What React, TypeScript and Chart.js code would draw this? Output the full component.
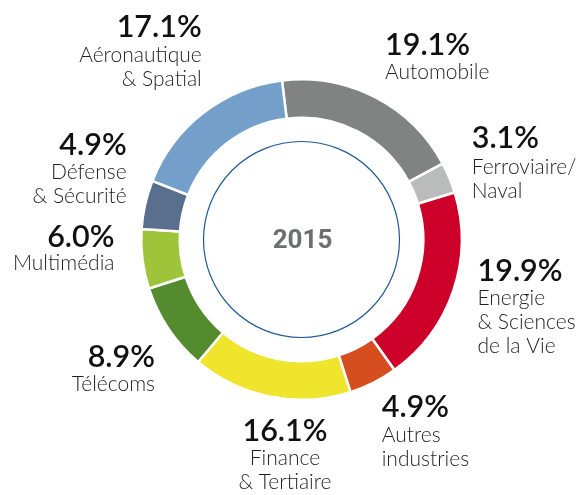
import React, { useEffect, useRef } from "react";
import { Chart, registerables } from "chart.js";

Chart.register(...registerables);

// ---- data ----
const categories = [
  "Automobile",
  "Ferroviaire/Naval",
  "Energie & Sciences de la Vie",
  "Autres industries",
  "Finance & Tertiaire",
  "Télécoms",
  "Multimédia",
  "Défense & Sécurité",
  "Aéronautique & Spatial",
];
const shares = [19.1, 3.1, 19.9, 4.9, 16.1, 8.9, 6.0, 4.9, 17.1];
const labelLines = [
  ["Automobile"],
  ["Ferroviaire/", "Naval"],
  ["Energie", "& Sciences", "de la Vie"],
  ["Autres", "industries"],
  ["Finance", "& Tertiaire"],
  ["Télécoms"],
  ["Multimédia"],
  ["Défense", "& Sécurité"],
  ["Aéronautique", "& Spatial"],
];
const centerLabel = "2015";

// ---- styles / layout ----
const colors = [
  "#7f8482",
  "#b8bdbc",
  "#cc0029",
  "#d64d1f",
  "#f0e52d",
  "#558b2f",
  "#9ec53a",
  "#5a6e8d",
  "#759fcb",
];
type Align = "left" | "right" | "center";
const labelLayout: { x: number; num: number; line: number; align: Align }[] = [
  { x: 385, num: 55, line: 79.3, align: "left" },
  { x: 471.7, num: 148.3, line: 174.3, align: "left" },
  { x: 477.5, num: 280.7, line: 305, align: "left" },
  { x: 381.7, num: 416.7, line: 441.7, align: "left" },
  { x: 285, num: 440.7, line: 465, align: "center" },
  { x: 155, num: 367.3, line: 390.7, align: "right" },
  { x: 114.5, num: 246.7, line: 270, align: "right" },
  { x: 126.7, num: 155, line: 178.8, align: "right" },
  { x: 201.7, num: 36.7, line: 61.7, align: "right" },
];
const LINE_STEP = 24;
const NUM_FONT = "600 30.5px Lato";
const LABEL_FONT = "300 21px Lato";

const overlayPlugin = {
  id: "overlay",
  afterDraw(chart: any) {
    const ctx: CanvasRenderingContext2D = chart.ctx;
    const arc = chart.getDatasetMeta(0).data[0];
    const cx = arc.x;
    const cy = arc.y;
    ctx.save();
    ctx.beginPath();
    ctx.arc(cx, cy, 98, 0, Math.PI * 2);
    ctx.strokeStyle = "#1f5a96";
    ctx.lineWidth = 1.2;
    ctx.stroke();

    ctx.fillStyle = "#6d6e71";
    ctx.font = "bold 26px Roboto";
    ctx.textAlign = "center";
    ctx.textBaseline = "alphabetic";
    ctx.fillText(centerLabel, cx + 1, cy + 8.2);

    shares.forEach((v, i) => {
      const lay = labelLayout[i];
      ctx.textAlign = lay.align;
      ctx.fillStyle = "#111111";
      ctx.font = NUM_FONT;
      ctx.fillText(v.toFixed(1) + "%", lay.x, lay.num);
      ctx.fillStyle = "#231f20";
      ctx.font = LABEL_FONT;
      labelLines[i].forEach((t, j) => {
        ctx.fillText(t, lay.x, lay.line + j * LINE_STEP);
      });
    });
    ctx.restore();
  },
};

export default function App() {
  const ref = useRef<HTMLCanvasElement | null>(null);
  useEffect(() => {
    if (!ref.current) return;
    const chart = new Chart(ref.current, {
      type: "doughnut",
      data: {
        labels: categories,
        datasets: [
          {
            data: shares,
            backgroundColor: colors,
            borderColor: "#ffffff",
            borderWidth: 2.5,
          },
        ],
      },
      options: {
        responsive: false,
        animation: false,
        events: [],
        rotation: -7,
        cutout: 121.75,
        layout: { padding: { left: 140, right: 122, top: 78, bottom: 94 } },
        plugins: {
          legend: { display: false },
          tooltip: { enabled: false },
          title: { display: false },
        },
      },
      plugins: [overlayPlugin],
    });
    return () => chart.destroy();
  }, []);
  return (
    <div
      style={{
        position: "fixed",
        left: 0,
        top: 0,
        width: 585,
        height: 495,
        background: "#ffffff",
      }}
    >
      <canvas ref={ref} width={585} height={495} />
    </div>
  );
}
